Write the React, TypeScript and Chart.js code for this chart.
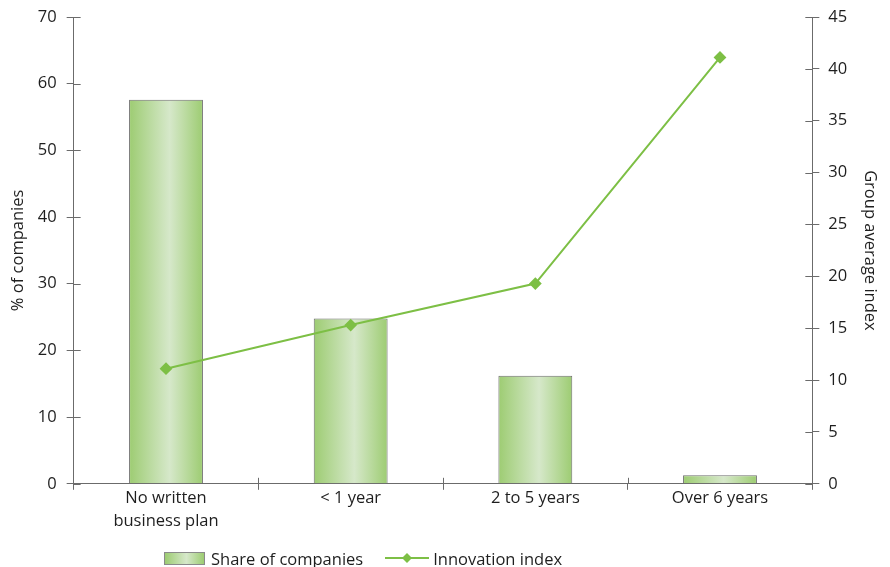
import React, { useEffect, useRef } from "react";
import { Chart, registerables } from "chart.js";

Chart.register(...registerables);

const categories: (string | string[])[] = [["No written", "business plan"], "< 1 year", "2 to 5 years", "Over 6 years"];
const shareOfCompanies = [57.6, 24.8, 16.2, 1.3];
const innovationIndex = [11.1, 15.3, 19.3, 41.1];
const leftTicks = { min: 0, max: 70, step: 10 };
const rightTicks = { min: 0, max: 45, step: 5 };

const FONT = "'Open Sans', sans-serif";
const FS = 16.5;
const AXIS = "#6b6b6b";
const LINE = "#7dbf45";
const TXT = "#1e1e1e";

const innerTicks = {
  id: "innerTicks",
  afterDraw(chart: any) {
    const ctx = chart.ctx;
    const area = chart.chartArea;
    ctx.save();
    ctx.strokeStyle = AXIS;
    ctx.lineWidth = 1;
    const y = chart.scales.y;
    const y1 = chart.scales.y1;
    y.ticks.forEach((_t: any, i: number) => {
      const p = Math.round(y.getPixelForTick(i)) + 0.5;
      ctx.beginPath();
      ctx.moveTo(area.left, p);
      ctx.lineTo(area.left + 7, p);
      ctx.stroke();
    });
    y1.ticks.forEach((_t: any, i: number) => {
      const p = Math.round(y1.getPixelForTick(i)) + 0.5;
      ctx.beginPath();
      ctx.moveTo(area.right, p);
      ctx.lineTo(area.right - 7, p);
      ctx.stroke();
    });
    const n = categories.length;
    const w = (area.right - area.left) / n;
    for (let i = 1; i < n; i++) {
      const px = Math.round(area.left + w * i) + 0.5;
      ctx.beginPath();
      ctx.moveTo(px, area.bottom);
      ctx.lineTo(px, area.bottom - 6);
      ctx.stroke();
    }
    ctx.restore();
  },
};

const trimPadding = (scale: any) => {
  scale.paddingTop = 0;
  scale.paddingBottom = 0;
};

export default function App() {
  const ref = useRef<HTMLCanvasElement>(null);
  useEffect(() => {
    const canvas = ref.current!;
    const barPct = 0.4;
    const chart = new Chart(canvas, {
      type: "bar",
      data: {
        labels: categories as any,
        datasets: [
          {
            type: "line",
            label: "Innovation index",
            data: innovationIndex,
            yAxisID: "y1",
            borderColor: LINE,
            backgroundColor: LINE,
            borderWidth: 2,
            pointStyle: "rectRot",
            pointRadius: 5,
            pointHoverRadius: 5,
            pointBackgroundColor: LINE,
            pointBorderColor: LINE,
            tension: 0,
            order: 0,
          } as any,
          {
            type: "bar",
            label: "Share of companies",
            data: shareOfCompanies,
            yAxisID: "y",
            categoryPercentage: 1,
            barPercentage: barPct,
            borderColor: "#6e6e6e",
            borderWidth: 1,
            borderSkipped: "bottom",
            order: 1,
            backgroundColor: (c: any) => {
              const chartObj = c.chart;
              const xs = chartObj.scales?.x;
              if (!xs || !chartObj.chartArea) return "#a8d283";
              const cx = xs.getPixelForValue(c.dataIndex);
              const cw = (chartObj.chartArea.right - chartObj.chartArea.left) / categories.length;
              const half = (cw * barPct) / 2;
              const g = chartObj.ctx.createLinearGradient(cx - half, 0, cx + half, 0);
              g.addColorStop(0, "#9dcc72");
              g.addColorStop(0.55, "#d6e8ca");
              g.addColorStop(1, "#9dcc72");
              return g;
            },
          } as any,
        ],
      },
      options: {
        animation: false,
        responsive: false,
        maintainAspectRatio: false,
        layout: { padding: { top: 17, left: 3, right: 10, bottom: 8 } },
        plugins: { legend: { display: false }, tooltip: { enabled: false } },
        scales: {
          x: {
            offset: true,
            grid: { drawOnChartArea: false, color: AXIS, tickLength: 6, offset: true },
            border: { color: AXIS },
            ticks: { color: TXT, font: { family: FONT, size: FS, lineHeight: 1.4 }, maxRotation: 0, padding: -3 },
          },
          y: {
            position: "left",
            min: leftTicks.min,
            max: leftTicks.max,
            afterFit: trimPadding,
            ticks: { stepSize: leftTicks.step, color: TXT, font: { family: FONT, size: FS }, padding: 10 },
            grid: { drawOnChartArea: false, color: AXIS, tickLength: 7 },
            border: { color: AXIS },
            title: { display: true, text: "% of companies", color: TXT, font: { family: FONT, size: FS }, padding: { top: 5, bottom: 0 } },
          },
          y1: {
            position: "right",
            min: rightTicks.min,
            max: rightTicks.max,
            afterFit: trimPadding,
            ticks: { stepSize: rightTicks.step, color: TXT, font: { family: FONT, size: FS }, padding: 9 },
            grid: { drawOnChartArea: false, color: AXIS, tickLength: 7 },
            border: { color: AXIS },
            title: { display: true, text: "Group average index", color: TXT, font: { family: FONT, size: FS }, padding: { top: 0, bottom: 4 } },
          },
        },
      },
      plugins: [innerTicks],
    });
    return () => chart.destroy();
  }, []);

  const textStyle: React.CSSProperties = { fontFamily: FONT, fontSize: FS, color: TXT };
  return (
    <div style={{ position: "fixed", left: 0, top: 0, width: 890, height: 567, background: "#fff" }}>
      <canvas ref={ref} width={890} height={538} style={{ position: "absolute", left: 0, top: 0 }} />
      <div style={{ position: "absolute", left: 164, top: 546, height: 24, display: "flex", alignItems: "center", ...textStyle }}>
        <span
          style={{
            display: "inline-block",
            width: 39,
            height: 11,
            border: "1px solid #8a8a8a",
            background: "linear-gradient(to right, #9dcc72, #d6e8ca 55%, #9dcc72)",
            marginRight: 6,
          }}
        />
        <span>Share of companies</span>
        <svg width={44} height={14} style={{ marginLeft: 22, marginRight: 4 }}>
          <line x1={0} y1={7} x2={44} y2={7} stroke={LINE} strokeWidth={2} />
          <polygon points="22,2 27,7 22,12 17,7" fill={LINE} />
        </svg>
        <span>Innovation index</span>
      </div>
    </div>
  );
}
